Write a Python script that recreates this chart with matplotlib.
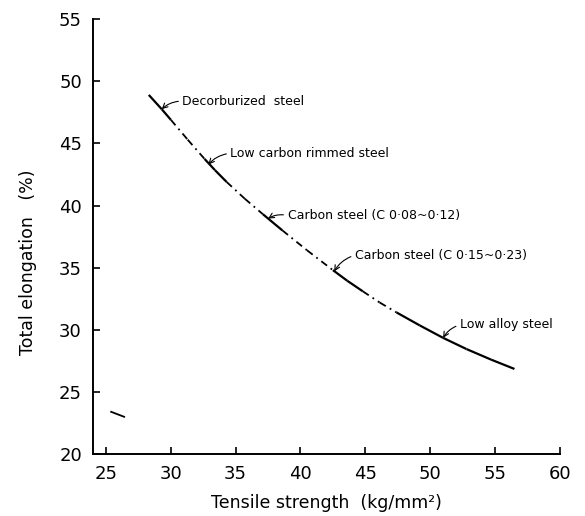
import matplotlib
matplotlib.use("Agg")
import matplotlib.pyplot as plt

# curve (tensile strength, total elongation)
curve_x = [28.3, 29.3, 30.0, 31.3, 32.6, 33.4, 34.3, 35.7, 37.1, 38.6, 40.5,
           42.5, 43.6, 44.8, 46.1, 47.4, 49.2, 51.0, 52.8, 54.7, 56.5]
curve_y = [48.9, 47.75, 46.9, 45.3, 43.75, 42.85, 41.9, 40.55, 39.3, 38.0, 36.4,
           34.8, 33.95, 33.1, 32.2, 31.4, 30.35, 29.35, 28.45, 27.6, 26.85]

# solid parts of the curve (the rest is dash-dot)
solid_start = [28.3, 32.6, 37.1, 42.5, 47.4]
solid_end = [30.0, 34.3, 38.6, 44.8, 56.5]

# labels: text, arrow tip on the curve, text position
labels = ["Decorburized  steel", "Low carbon rimmed steel",
          "Carbon steel (C 0\u00b708~0\u00b712)", "Carbon steel (C 0\u00b715~0\u00b723)",
          "Low alloy steel"]
tip_x = [29.3, 32.9, 37.5, 42.6, 51.0]
tip_y = [47.75, 43.3, 38.95, 34.7, 29.35]
text_x = [30.9, 34.6, 39.0, 44.2, 52.3]
text_y = [48.4, 44.2, 39.2, 36.0, 30.4]

# stray mark in lower left of the original
stray_x = [25.4, 26.4]
stray_y = [23.4, 23.0]

plt.rcParams['font.family'] = ['DejaVu Sans']

fig = plt.figure(figsize=(5.85, 5.16), dpi=100)
ax = fig.add_axes([0.159, 0.120, 0.798, 0.843])

for i in range(len(curve_x) - 1):
    x0, x1 = curve_x[i], curve_x[i + 1]
    solid = any(s <= x0 and x1 <= e for s, e in zip(solid_start, solid_end))
    if solid:
        ax.plot([x0, x1], [curve_y[i], curve_y[i + 1]], color='black', lw=1.6,
                solid_capstyle='butt')
    else:
        ax.plot([x0, x1], [curve_y[i], curve_y[i + 1]], color='black', lw=1.3,
                linestyle=(0, (4, 2.5, 1, 2.5)))

ax.plot(stray_x, stray_y, color='black', lw=1.3)

for lab, tx, ty, px, py in zip(labels, text_x, text_y, tip_x, tip_y):
    ax.annotate(lab, xy=(px, py), xytext=(tx, ty), ha='left', va='center',
                fontsize=9, family=['DejaVu Sans'],
                arrowprops=dict(arrowstyle='->', lw=0.8, color='black',
                                connectionstyle='arc3,rad=0.2',
                                relpos=(0, 0.5), shrinkA=1, shrinkB=0))

ax.set_xlim(24, 60)
ax.set_ylim(20, 55)
ax.set_xticks([25, 30, 35, 40, 45, 50, 55, 60])
ax.set_yticks([20, 25, 30, 35, 40, 45, 50, 55])
ax.spines['top'].set_visible(False)
ax.spines['right'].set_visible(False)
ax.spines['left'].set_linewidth(1.4)
ax.spines['bottom'].set_linewidth(1.4)
ax.tick_params(direction='in', length=5, width=1.2, labelsize=13, pad=8)

ax.set_xlabel('Tensile strength  (kg/mm\u00b2)', fontsize=12.5, labelpad=8)
ax.set_ylabel('Total elongation   (%)', fontsize=12.5)
ax.yaxis.set_label_coords(-0.12, 0.44)

fig.savefig('out.png', dpi=100)
